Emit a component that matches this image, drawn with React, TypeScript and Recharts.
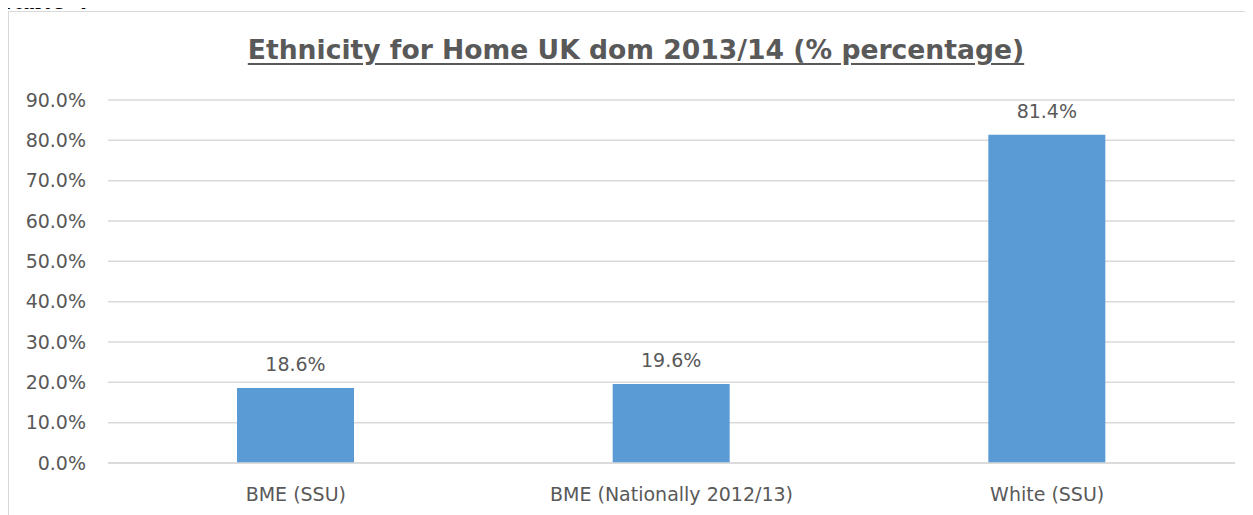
import { BarChart, Bar, XAxis, YAxis, CartesianGrid, LabelList } from "recharts";

const categories = ["BME (SSU)", "BME (Nationally 2012/13)", "White (SSU)"];
const percentages = [18.6, 19.6, 81.4];
const yTicks = [0, 10, 20, 30, 40, 50, 60, 70, 80, 90];

const TEXT = "#595959";
const GRID = "#d9d9d9";
const FONT = "'DejaVu Sans', sans-serif";

const data = categories.map((name, i) => ({ name, value: percentages[i] }));

export default function App() {
  return (
    <div style={{ position: "relative", fontFamily: FONT }}>
      {/* caption from the surrounding document, mostly cut off at the top */}
      <div
        style={{
          position: "absolute",
          left: -8,
          top: -26,
          fontFamily: "'Liberation Sans', sans-serif",
          fontWeight: "bold",
          fontSize: 26,
          color: "#000",
        }}
      >
        Table 4
      </div>
      <div
        style={{
          position: "relative",
          marginTop: 3,
          width: 1242,
          height: 520,
          border: `1px solid ${GRID}`,
          boxSizing: "border-box",
          background: "#fff",
        }}
      >
        <div
          style={{
            position: "absolute",
            left: 14,
            right: 0,
            top: 22,
            textAlign: "center",
            fontSize: 26.6,
            fontWeight: "bold",
            color: TEXT,
            textDecoration: "underline",
            textUnderlineOffset: 4,
          }}
        >
          Ethnicity for Home UK dom 2013/14 (% percentage)
        </div>
        <div style={{ position: "absolute", left: 0, top: 0 }}>
          <BarChart
            width={1240}
            height={500}
            data={data}
            margin={{ top: 88, right: 14, left: 0, bottom: 0 }}
          >
            <CartesianGrid vertical={false} stroke={GRID} strokeWidth={1.5} />
            <XAxis
              dataKey="name"
              height={49}
              tickSize={0}
              tickMargin={25}
              axisLine={{ stroke: GRID, strokeWidth: 1.5 }}
              tick={{ fill: TEXT, fontSize: 19, fontFamily: FONT }}
            />
            <YAxis
              width={99}
              domain={[0, 90]}
              ticks={yTicks}
              interval={0}
              tickSize={0}
              tickMargin={22}
              axisLine={false}
              tickFormatter={(v: number) => `${v.toFixed(1)}%`}
              tick={{ fill: TEXT, fontSize: 19, fontFamily: FONT }}
            />
            <Bar dataKey="value" fill="#5b9bd5" barSize={117} isAnimationActive={false}>
              <LabelList
                dataKey="value"
                position="top"
                offset={17}
                formatter={(v: number) => `${v.toFixed(1)}%`}
                style={{ fill: TEXT, fontSize: 19, fontFamily: FONT }}
              />
            </Bar>
          </BarChart>
        </div>
      </div>
    </div>
  );
}
